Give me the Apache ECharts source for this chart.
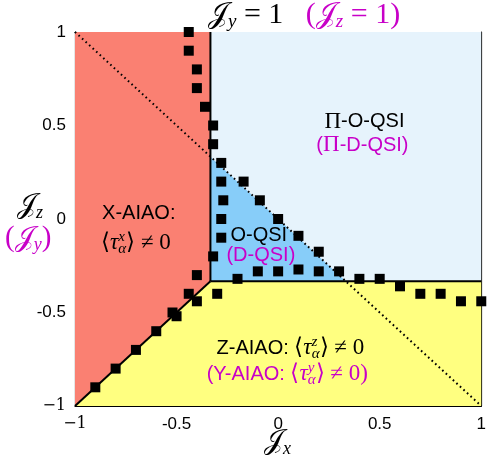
<!DOCTYPE html>
<html><head><meta charset="utf-8">
<script src="https://cdn.jsdelivr.net/npm/echarts@6/dist/echarts.min.js"></script>
<style>html,body{margin:0;padding:0;background:#fff}#c{width:489px;height:464px}</style>
</head><body><div id="c"></div>
<script>
// ---- data ----
const xTicks = [-1, -0.5, 0, 0.5, 1];
const yTicks = [-1, -0.5, 0, 0.5, 1];
const third = 1 / 3;
const regionXAIAO = [[-1, -1], [-third, -third], [-third, 1], [-1, 1]];
const regionPiOQSI = [[-third, -third], [1, -third], [1, 1], [-third, 1]];
const regionOQSI = [[-third, -third], [-third, third], [third, -third]];
const regionZAIAO = [[-1, -1], [-third, -third], [1, -third], [1, -1]];
const boundaryVert = [[-third, -third], [-third, 1]];
const boundaryHoriz = [[-third, -third], [1, -third]];
const boundaryDiag = [[-1, -1], [-third, -third]];
const classicalLine = [[-1, 1], [1, -1]];
const pointsX = [-0.44, -0.44, -0.40, -0.40, -0.36, -0.32, -0.32, -0.28, -0.28, -0.27, -0.28, -0.28, -0.32, -0.40,
  -0.17, -0.09, 0.00, 0.10, 0.20, 0.30,
  -0.20, -0.10, 0.00, 0.10, 0.20, 0.40, 0.50, 0.60, 0.70, 0.80, 0.90, 1.00,
  -0.30, -0.44, -0.40, -0.52, -0.50, -0.60, -0.70, -0.80, -0.90];
const pointsY = [1.00, 0.90, 0.80, 0.70, 0.60, 0.50, 0.40, 0.30, 0.20, 0.10, 0.00, -0.10, -0.20, -0.30,
  0.20, 0.10, 0.00, -0.09, -0.175, -0.28,
  -0.32, -0.28, -0.28, -0.27, -0.28, -0.32, -0.32, -0.36, -0.40, -0.40, -0.44, -0.44,
  -0.40, -0.40, -0.44, -0.50, -0.52, -0.60, -0.70, -0.80, -0.90];

const MAG = '#c800c8';
const J = '\u{1D4A5}';

const chart = echarts.init(document.getElementById('c'), null, {renderer: 'canvas'});

function polySeries(verts, color) {
  return {
    type: 'custom', silent: true, z: 1,
    data: [0],
    renderItem: function (params, api) {
      return {type: 'polygon', shape: {points: verts.map(p => api.coord(p))}, style: {fill: color}};
    }
  };
}
function lineSeries(pts, style, z) {
  return {type: 'line', data: pts, symbol: 'none', silent: true, z: z, lineStyle: style, animation: false};
}

const SF = 20, MF = 23, SUPF = 15;
function tok(fam, size, col, lh, italic, va, w) {
  const o = {fontFamily: fam, fontSize: size, color: col, lineHeight: lh, align: 'left',
    textBorderWidth: 0, textShadowBlur: 0};
  if (italic) o.fontStyle = 'italic';
  if (va) o.verticalAlign = va;
  if (w != null) o.width = w;
  return o;
}
const annRich = {
  s: tok('Liberation Sans', SF, '#000', 27),
  sm: tok('Liberation Sans', SF, MAG, 27),
  r: tok('Liberation Serif', MF, '#000', 27),
  rm: tok('Liberation Serif', MF, MAG, 27),
  t: tok('Liberation Serif', MF, '#000', 27, true),
  tm: tok('Liberation Serif', MF, MAG, 27, true),
  up: tok('Liberation Serif', SUPF, '#000', 15, true, 'top', 0.1),
  upm: tok('Liberation Serif', SUPF, MAG, 15, true, 'top', 0.1),
  dn: tok('Liberation Serif', SUPF, '#000', 11, true, 'bottom'),
  dnm: tok('Liberation Serif', SUPF, MAG, 11, true, 'bottom')
};
const annotations = [
  {value: [0.425, 0.52], text: '{r|\u03A0}{s|-O-QSI}'},
  {value: [0.415, 0.395], text: '{sm|(}{rm|\u03A0}{sm|-D-QSI)}'},
  {value: [-0.686, 0.03], text: '{s|X-AIAO:}'},
  {value: [-0.70, -0.13], text: '{r|\u27E8}{t|\u03C4}{up|x}{dn|\u03B1}{r|\u27E9 \u2260 0}'},
  {value: [-0.095, -0.09], text: '{s|O-QSI}'},
  {value: [-0.085, -0.196], text: '{sm|(D-QSI)}'},
  {value: [0.06, -0.69], text: '{s|Z-AIAO: }{r|\u27E8}{t|\u03C4}{up|z}{dn|\u03B1}{r|\u27E9 \u2260 0}'},
  {value: [0.045, -0.83], text: '{sm|(Y-AIAO: }{rm|\u27E8}{tm|\u03C4}{upm|y}{dnm|\u03B1}{rm|\u27E9 \u2260 0)}'}
];

function tickFmt(v) {
  if (v === -1) return '{m|\u22121}';
  return String(v);
}
const tickLabelStyle = {fontFamily: 'Liberation Sans', fontSize: 17, color: '#000',
  rich: {m: {fontFamily: 'DejaVu Serif', fontSize: 16, color: '#000'}}};
const axisCommon = {min: -1, max: 1, interval: 0.5, splitLine: {show: false},
  axisLine: {show: true, onZero: false, lineStyle: {color: '#000', width: 1.2}},
  axisTick: {show: true, inside: true, length: 5, lineStyle: {color: '#000', width: 1}}};

function gRich(col) {
  return {
    j: {fontFamily: 'DejaVu Serif', fontSize: 28, fill: col, lineHeight: 32},
    r: {fontFamily: 'Liberation Serif', fontSize: 29, fill: col, lineHeight: 32},
    sb: {fontFamily: 'Liberation Serif', fontStyle: 'italic', fontSize: 18, fill: col, lineHeight: 22, verticalAlign: 'bottom'}
  };
}
function mixRich() {
  return {
    j: {fontFamily: 'DejaVu Serif', fontSize: 29, fill: '#000', lineHeight: 32},
    r: {fontFamily: 'Liberation Serif', fontSize: 30, fill: '#000', lineHeight: 32},
    sb: {fontFamily: 'Liberation Serif', fontStyle: 'italic', fontSize: 19, fill: '#000', lineHeight: 22, verticalAlign: 'bottom'},
    jm: {fontFamily: 'DejaVu Serif', fontSize: 29, fill: MAG, lineHeight: 32},
    rm: {fontFamily: 'Liberation Serif', fontSize: 30, fill: MAG, lineHeight: 32},
    sbm: {fontFamily: 'Liberation Serif', fontStyle: 'italic', fontSize: 19, fill: MAG, lineHeight: 22, verticalAlign: 'bottom'}
  };
}

chart.setOption({
  animation: false,
  backgroundColor: '#fff',
  grid: {left: 75, top: 32, width: 411, height: 374, containLabel: false},
  xAxis: [
    Object.assign({type: 'value', position: 'bottom', axisLabel: Object.assign({margin: 10, formatter: tickFmt}, tickLabelStyle)}, axisCommon),
    Object.assign({type: 'value', position: 'top', axisLabel: {show: false}}, axisCommon)
  ],
  yAxis: [
    Object.assign({type: 'value', position: 'left', axisLabel: Object.assign({margin: 9, formatter: tickFmt}, tickLabelStyle)}, axisCommon),
    Object.assign({type: 'value', position: 'right', axisLabel: {show: false}}, axisCommon)
  ],
  series: [
    polySeries(regionXAIAO, '#fa8072'),
    polySeries(regionPiOQSI, '#e6f3fc'),
    polySeries(regionZAIAO, '#ffff80'),
    polySeries(regionOQSI, '#87cdf9'),
    lineSeries(classicalLine, {color: '#000', width: 2, type: [1.6, 3.2]}, 3),
    lineSeries(boundaryVert, {color: '#000', width: 2}, 4),
    lineSeries(boundaryHoriz, {color: '#000', width: 2}, 4),
    lineSeries(boundaryDiag, {color: '#000', width: 2}, 4),
    {
      type: 'scatter', z: 5, symbol: 'rect', symbolSize: 10, silent: true, clip: true,
      itemStyle: {color: '#000', opacity: 1},
      data: pointsX.map((x, i) => [x, pointsY[i]])
    },
    {
      type: 'scatter', z: 6, symbolSize: 0, silent: true,
      itemStyle: {opacity: 1, color: 'transparent'},
      data: annotations.map(a => ({value: a.value, label: {formatter: a.text}})),
      label: {show: true, position: 'inside', color: '#000', textBorderWidth: 0, opacity: 1, rich: annRich}
    }
  ],
  graphic: [
    {type: 'text', left: 208, top: 0, z: 10, style: {
      text: '{j|' + J + '}{sb|y}{r| = 1   }{rm|(}{jm|' + J + '}{sbm|z}{rm| = 1)}',
      rich: mixRich()
    }},
    {type: 'text', left: 264, top: 428, z: 10, style: {
      text: '{j|' + J + '}{sb|x}', rich: gRich('#000')
    }},
    {type: 'text', left: 17, top: 192, z: 10, style: {
      text: '{j|' + J + '}{sb|z}', rich: gRich('#000')
    }},
    {type: 'text', left: 5, top: 224, z: 10, style: {
      text: '{r|(}{j|' + J + '}{sb|y}{r|)}', rich: gRich(MAG)
    }}
  ]
});
</script></body></html>
